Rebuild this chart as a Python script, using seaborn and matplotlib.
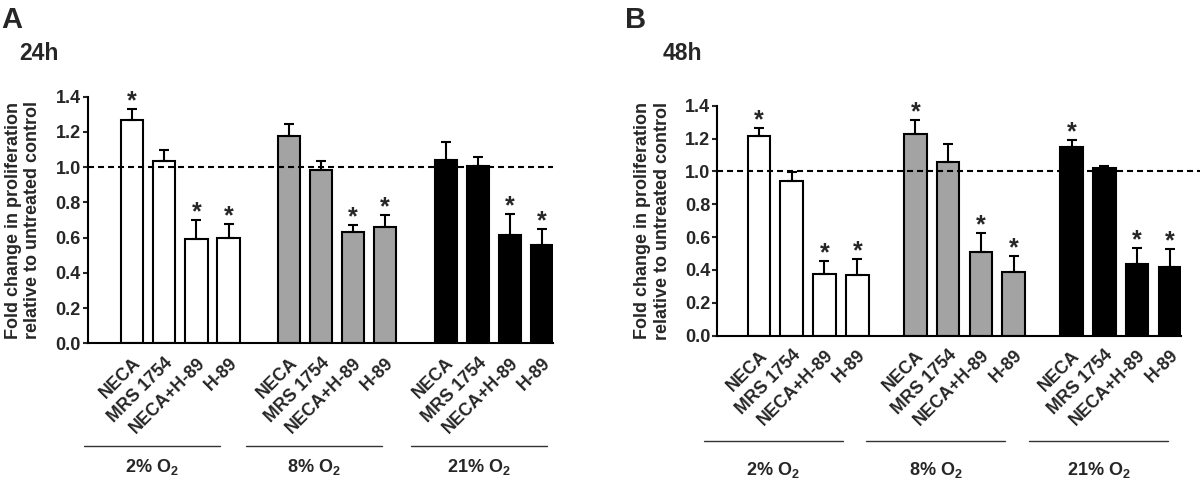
import numpy as np
import pandas as pd
import seaborn as sns
import matplotlib.pyplot as plt
from matplotlib import transforms

# treatments within each oxygen group
conditions = ['NECA', 'MRS 1754', 'NECA+H-89', 'H-89']
oxygen_levels = ['2%', '8%', '21%']
oxygen_labels = [r'2% O$_\mathbf{2}$', r'8% O$_\mathbf{2}$', r'21% O$_\mathbf{2}$']
bar_colors = ['white', '#a3a3a3', 'black']

# 24h (mean, upper SEM, significance)
mean_24h = [1.27, 1.035, 0.59, 0.60, 1.175, 0.985, 0.63, 0.66, 1.04, 1.005, 0.615, 0.56]
sem_24h = [0.06, 0.06, 0.11, 0.075, 0.07, 0.05, 0.04, 0.07, 0.10, 0.055, 0.12, 0.09]
sig_24h = [1, 0, 1, 1, 0, 0, 1, 1, 0, 0, 1, 1]

# 48h
mean_48h = [1.215, 0.94, 0.375, 0.368, 1.228, 1.06, 0.51, 0.388, 1.152, 1.024, 0.439, 0.421]
sem_48h = [0.05, 0.058, 0.08, 0.10, 0.085, 0.105, 0.115, 0.10, 0.037, 0.011, 0.094, 0.105]
sig_48h = [1, 0, 1, 1, 1, 0, 1, 1, 1, 0, 1, 1]

sns.set_style('ticks')
plt.rcParams['font.family'] = ['Liberation Sans', 'DejaVu Sans']
plt.rcParams['mathtext.fontset'] = 'custom'
plt.rcParams['mathtext.rm'] = 'Liberation Sans:bold'
plt.rcParams['mathtext.bf'] = 'Liberation Sans:bold'


def draw_panel(ax, means, sems, sigs, group_step, left_pad, line_shifts,
               line_y, label_y, dash_end):
    pos = [g * group_step + i for g in range(3) for i in range(4)]
    df = pd.DataFrame({
        'pos': pos,
        'value': means,
        'oxygen': [o for o in oxygen_levels for _ in conditions],
    })
    sns.barplot(data=df, x='pos', y='value', hue='oxygen', hue_order=oxygen_levels,
                palette=bar_colors, native_scale=True, dodge=False, width=0.69,
                edgecolor='black', linewidth=1.5, errorbar=None, legend=False, ax=ax)
    ax.errorbar(pos, means, yerr=[np.zeros(len(means)), sems], fmt='none',
                ecolor='black', elinewidth=1.5, capsize=3.3, capthick=1.5, zorder=4)
    for x, m, s, sig in zip(pos, means, sems, sigs):
        if sig:
            ax.annotate('*', (x, m + s), xytext=(0, 0.5), textcoords='offset points',
                        ha='center', va='baseline', fontsize=18, fontweight='bold')
    ax.axhline(1.0, color='black', lw=1.5, ls=(0, (2.9, 1.9)), zorder=5,
               xmax=dash_end, clip_on=False)

    ax.set_xlim(-left_pad, pos[-1] + 0.35)
    ax.set_ylim(0, 1.4)
    ticks = np.arange(0, 1.41, 0.2)
    ax.set_yticks(ticks)
    ax.set_yticklabels([f'{t:.1f}' for t in ticks], fontsize=13, fontweight='bold')
    ax.set_xticks(pos)
    ax.set_xticklabels(conditions * 3, rotation=45, ha='right', va='top',
                       rotation_mode='anchor', fontsize=12.8, fontweight='bold')
    ax.tick_params(axis='x', length=0, pad=8)
    ax.tick_params(axis='y', length=3.4, width=1.5, pad=1.5)
    ax.set_xlabel('')
    ax.set_ylabel('Fold change in proliferation\nrelative to untreated control',
                  fontsize=13, fontweight='bold', linespacing=1.2, va='center')
    ax.yaxis.set_label_coords(-0.139, 0.5)
    for side in ['left', 'bottom']:
        ax.spines[side].set_linewidth(1.5)
        ax.spines[side].set_color('black')
    sns.despine(ax=ax)

    trans = transforms.blended_transform_factory(ax.transData, ax.transAxes)
    for g, lab in enumerate(oxygen_labels):
        center = g * group_step + 1.5 + line_shifts[g]
        ax.plot([center - 2.12, center + 2.12], [line_y, line_y], color='#333333',
                lw=1, transform=trans, clip_on=False)
        ax.text(center, label_y, lab, transform=trans, ha='center', va='center',
                fontsize=13, fontweight='bold')


fig = plt.figure(figsize=(12, 4.83), dpi=100)
ax_a = fig.add_axes([0.073, 0.289, 0.388, 0.511])
ax_b = fig.add_axes([0.5975, 0.305, 0.387, 0.476])

draw_panel(ax_a, mean_24h, sem_24h, sig_24h, 4.88, 1.39, [-0.875, -0.71, -0.45],
           -0.415, -0.502, 1.0)
draw_panel(ax_b, mean_48h, sem_48h, sig_48h, 4.77, 1.28, [-1.07, -0.87, -0.67],
           -0.458, -0.585, 1.045)

fig.text(0.001, 0.942, 'A', fontsize=21, fontweight='bold', va='baseline')
fig.text(0.521, 0.942, 'B', fontsize=21, fontweight='bold', va='baseline')
fig.text(0.016, 0.876, '24h', fontsize=16.5, fontweight='bold', va='baseline')
fig.text(0.5525, 0.876, '48h', fontsize=16.5, fontweight='bold', va='baseline')

fig.savefig('out.png', dpi=100)
